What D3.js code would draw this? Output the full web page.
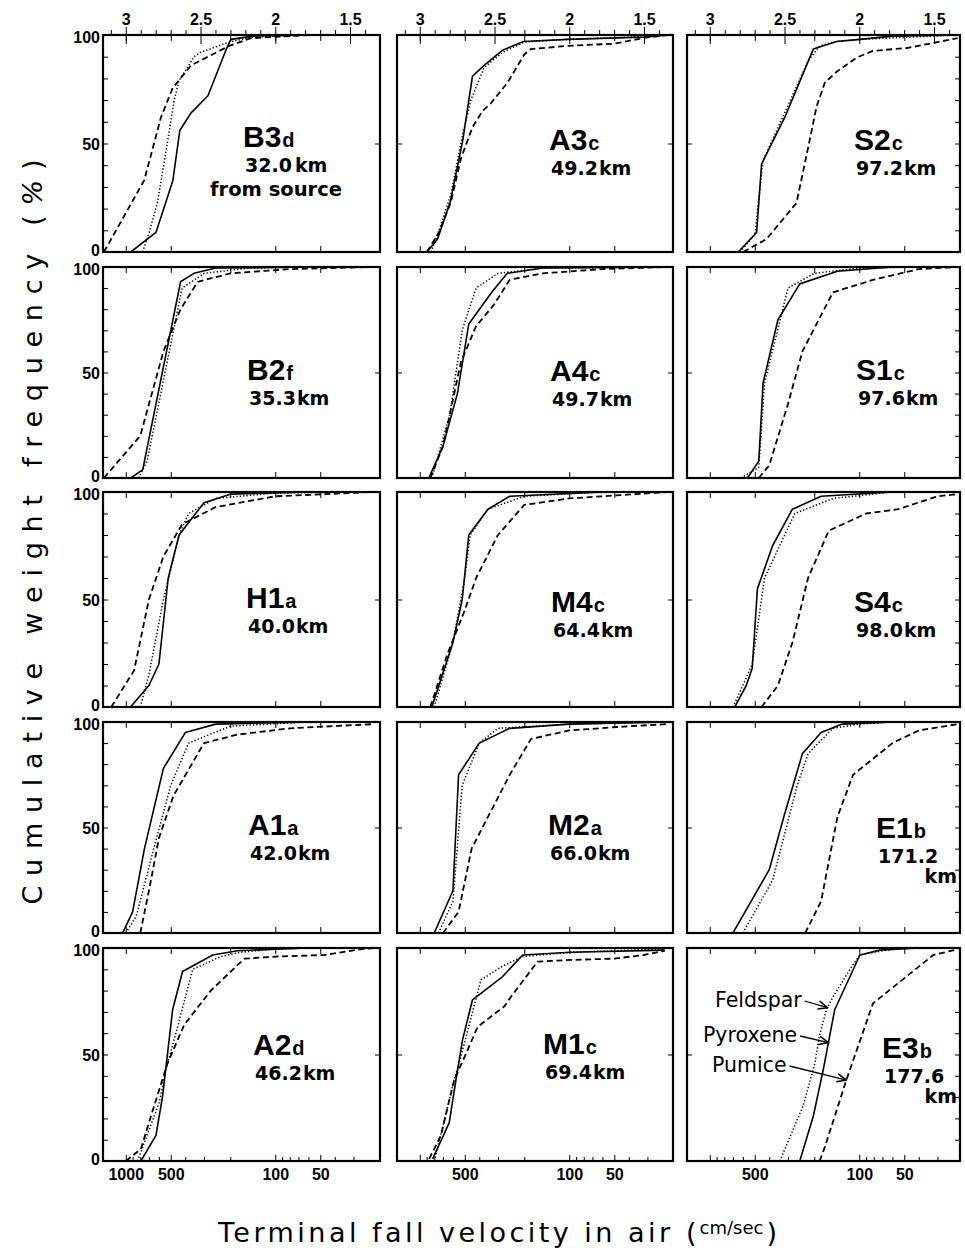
<!DOCTYPE html>
<html>
<head>
<meta charset="utf-8">
<script src="https://cdn.jsdelivr.net/npm/d3@7"></script>
<style>
  body { margin: 0; background: #fff; }
  svg { display: block; }
  .tick text { font-family: "Liberation Sans", Arial, sans-serif; font-weight: bold; fill: #000; }
</style>
</head>
<body>
<svg id="chart" width="965" height="1256"></svg>
<script>
// ---- Samples (row-major: 5 rows x 3 columns) ----
const sampleCodes    = ["B3", "A3", "S2", "B2", "A4", "S1", "H1", "M4", "S4", "A1", "M2", "E1", "A2", "M1", "E3"];
const sampleSuffixes = ["d",  "c",  "c",  "f",  "c",  "c",  "a",  "c",  "c",  "a",  "a",  "b",  "d",  "c",  "b"];
const distancesKm    = ["32.0", "49.2", "97.2", "35.3", "49.7", "97.6", "40.0", "64.4", "98.0", "42.0", "66.0", "171.2", "46.2", "69.4", "177.6"];

// ---- Cumulative weight frequency (%) against terminal fall velocity (cm/sec) ----
const pyroxene = [
  [[925,0],[628,9],[484,33],[435,56],[367,64],[282,72],[214,93],[198,98],[140,99.5],[60,100]],
  [[896,0],[760,6],[626,23],[517,51],[444,81],[371,86],[279,93],[202,97],[103,98],[32,99],[22,100]],
  [[645,0],[486,9],[450,40.6],[315,62],[203,93.5],[142,97],[99,98],[60,99.5],[22,100]],
  [[925,0],[770,4],[430,93],[350,97],[250,99.5],[60,100]],
  [[870,0],[700,15],[560,40],[470,73],[330,88],[260,97],[150,99.5],[22,100]],
  [[560,0],[470,8],[440,45],[350,75],[250,92],[140,98],[60,100]],
  [[930,0],[700,10],[600,20],[520,60],[440,80],[300,95],[200,99],[60,100]],
  [[830,0],[600,30],[520,50],[470,80],[350,92],[250,98],[60,100]],
  [[680,0],[570,10],[520,18],[480,55],[380,75],[280,92],[180,98],[60,100]],
  [[1050,0],[900,10],[750,40],[560,78],[400,95],[250,99],[60,100]],
  [[800,0],[600,20],[550,75],[400,90],[250,97],[100,99],[22,100]],
  [[700,0],[400,30],[320,55],[240,85],[180,95],[130,99],[60,100]],
  [[792,0],[628,12],[567,30.5],[486,71],[417,89],[262,96.7],[179,98.7],[102,99.4],[60,100]],
  [[820,1],[635,18],[573,38],[517,57],[444,75.7],[279,86.6],[205,96.7],[98,98],[23,99]],
  [[250,0],[203,21],[174,43],[146,71],[99,96.7],[73,99],[40,100]]
];
const feldspar = [
  [[771,0],[697,9],[613,23],[525,51],[474,70],[440,79],[349,90],[316,92],[208,96.5],[146,99],[60,100]],
  [[841,0],[760,8],[619,26.6],[517,54],[455,70],[371,85],[279,92],[200,96.7],[103,98],[40,99],[22,100]],
  [[628,0],[499,8],[441,42],[220,88],[184,95],[142,97],[99,98],[22,100]],
  [[820,0],[720,8],[420,90],[300,97],[150,99.5],[60,100]],
  [[830,0],[630,30],[520,70],[420,90],[300,97],[150,99.5],[22,100]],
  [[620,0],[470,5],[430,45],[300,90],[200,97],[100,99.5],[40,100]],
  [[800,0],[700,15],[560,50],[440,80],[380,90],[250,97],[100,99.5],[30,100]],
  [[800,0],[600,30],[500,60],[460,80],[350,92],[200,98],[60,100]],
  [[700,0],[600,10],[520,20],[430,60],[270,90],[150,97],[60,100]],
  [[1000,0],[850,8],[650,40],[500,70],[380,90],[200,98],[60,100]],
  [[750,0],[600,15],[520,70],[400,90],[300,97],[100,99],[22,100]],
  [[600,0],[380,25],[260,70],[220,85],[150,97],[100,99],[60,100]],
  [[834,0],[597,27.5],[539,43],[450,63],[357,90],[231,96],[170,98],[100,99.5],[60,100]],
  [[800,0],[589,38],[531,49],[390,85],[287,91],[205,96],[98,98],[23,99.5]],
  [[340,0],[237,26],[198,46],[185,58.6],[166,71],[150,77],[113,91],[99,96.7],[60,99.5]]
];
const pumice = [
  [[1400,0],[753,33],[582,62],[486,75.5],[366,86],[203,95],[146,98.5],[60,100]],
  [[896,0],[745,9],[619,23],[531,43],[444,57.5],[380,65],[334,68.6],[259,78],[200,91],[181,93.5],[103,95],[50,96],[32,98.6],[22,100]],
  [[597,0],[417,6],[263,22.6],[220,48],[193,67],[170,78],[142,83],[104,89.6],[81,92.7],[48,94],[30.5,96.6],[22,98.6]],
  [[1400,0],[800,20],[560,60],[430,80],[330,93],[200,97],[80,99],[22,100]],
  [[850,0],[700,15],[530,55],[420,72],[320,82],[250,94],[150,97],[60,99],[22,100]],
  [[470,0],[400,6],[300,35],[240,60],[150,88],[80,94],[40,99],[22,100]],
  [[1250,0],[880,17],[700,50],[560,70],[420,85],[250,93],[100,98],[22,100]],
  [[850,0],[650,25],[500,45],[420,60],[300,80],[200,94],[100,97],[22,100]],
  [[450,0],[350,10],[280,30],[220,60],[160,82],[90,90],[55,92],[30,98],[22,99]],
  [[800,0],[700,20],[600,45],[480,65],[300,90],[180,94],[80,97],[22,99]],
  [[700,0],[550,10],[450,40],[350,55],[250,75],[180,92],[100,96],[40,98],[22,99]],
  [[230,0],[180,15],[140,55],[110,75],[60,90],[40,96],[22,99]],
  [[998,0],[792,5.6],[679,21],[525,46],[406,64],[270,80],[161,95],[97,96],[47,96.7],[27,99.4],[22,100]],
  [[865,1],[722,12],[589,38],[479,52],[410,63],[272,72.6],[246,77],[163,93.6],[98,94.4],[50,95],[32,96.7],[23,98.7]],
  [[184,0],[170,6.5],[122,38],[81,74],[32,96.7],[22,99.4]]
];

// ---- Axis ticks ----
const velocityLabelTicks = [[1000, 500, 100, 50], [500, 100, 50], [500, 100, 50]];
const velocityMinorTicks = [900, 800, 700, 600, 400, 300, 200, 90, 80, 70, 60, 40, 30];
const phiLabelTicks = [3, 2.5, 2, 1.5];
const phiLabelText = ["3", "2.5", "2", "1.5"];
const percentLabelTicks = [0, 50, 100];
const percentMinorTicks = [10, 20, 30, 40, 60, 70, 80, 90];

// Legend (E3b panel): name and the % level where its arrow meets the line
const legendNames = ["Feldspar", "Pyroxene", "Pumice"];
const legendTargets = [72, 55.6, 38];

// ---- Layout ----
const colLeft  = [103, 397, 687];
const colRight = [380, 673, 960];
const rowTop    = [35, 267, 492, 722, 948];
const rowBottom = [252, 478, 707, 933, 1161];
const pxPerDecade = 149.5;
const vLeft = 1420;
// panel label anchors (name baseline, relative to the panel's top-left corner)
const labelAt = [[140,112],[152,115],[167,115],[144,113],[153,114],[169,113],[143,116],[154,120],[167,120],[145,113],[151,113],[189,116],[150,107],[146,106],[195,110]];

const svg = d3.select("#chart");
const line = (x, y) => d3.line().x(d => x(d[0])).y(d => y(d[1]));
const seriesStyle = [
  { data: pyroxene, width: 1.6, dash: null },
  { data: feldspar, width: 1.5, dash: "1.3,2.1" },
  { data: pumice,   width: 1.8, dash: "6,3.6" }
];

svg.append("defs").append("marker")
  .attr("id", "arrow").attr("viewBox", "0 0 10 10")
  .attr("refX", 9).attr("refY", 5)
  .attr("markerWidth", 9).attr("markerHeight", 9)
  .attr("orient", "auto")
  .append("path").attr("d", "M1,1.5 L9,5 L1,8.5")
  .attr("fill", "none").attr("stroke", "#000").attr("stroke-width", 1.3);

const clean = g => g.select(".domain").remove();
const labelFont = '"Liberation Sans", Arial, sans-serif';
const distFont = '"DejaVu Sans", sans-serif';

sampleCodes.forEach((code, i) => {
  const r = Math.floor(i / 3), c = i % 3;
  const W = colRight[c] - colLeft[c];
  const H = rowBottom[r] - rowTop[r];
  const x = d3.scaleLog().domain([vLeft, vLeft / Math.pow(10, W / pxPerDecade)]).range([0, W]);
  const y = d3.scaleLinear().domain([0, 100]).range([H, 0]);
  const g = svg.append("g").attr("transform", `translate(${colLeft[c]},${rowTop[r]})`);

  // curves
  const clip = `clip${i}`;
  g.append("clipPath").attr("id", clip).append("rect").attr("width", W).attr("height", H);
  const lines = g.append("g").attr("clip-path", `url(#${clip})`);
  seriesStyle.forEach(s => {
    lines.append("path")
      .attr("d", line(x, y)(s.data[i]))
      .attr("fill", "none").attr("stroke", "#000")
      .attr("stroke-width", s.width)
      .attr("stroke-dasharray", s.dash)
      .attr("stroke-linejoin", "round");
  });

  // inward ticks on top and bottom borders
  g.append("g").attr("transform", `translate(0,${H})`)
    .call(d3.axisTop(x).tickValues([1000, 500, 100, 50]).tickSize(6).tickFormat(""))
    .call(clean);
  g.append("g")
    .call(d3.axisBottom(x).tickValues([1000, 500, 200, 100, 50]).tickSize(6).tickFormat(""))
    .call(clean);

  // percent ticks: full set on the outer sides, only 50 on inner sides
  const leftTicks = c === 0 ? percentMinorTicks.concat([50]) : [50];
  const rightTicks = c === 2 ? percentMinorTicks.concat([50]) : [50];
  g.append("g").call(d3.axisRight(y).tickValues(leftTicks).tickSize(5).tickFormat("")).call(clean);
  g.append("g").attr("transform", `translate(${W},0)`)
    .call(d3.axisLeft(y).tickValues(rightTicks).tickSize(5).tickFormat("")).call(clean);

  if (c === 0) {
    g.append("g")
      .call(d3.axisLeft(y).tickValues(percentLabelTicks).tickSize(0).tickPadding(3))
      .call(clean)
      .selectAll("text").attr("font-size", 16)
      .attr("dy", d => d === 0 ? "0.2em" : d === 100 ? "0.45em" : "0.36em");
  }

  if (r === 0) {
    // phi scale along the top
    const phi = d3.scaleLinear().domain(x.domain().map(Math.log10)).range([0, W]);
    const minors = d3.range(14, 32).map(v => v / 10).filter(v => phiLabelTicks.indexOf(v) < 0);
    g.append("g").call(d3.axisTop(phi).tickValues(minors).tickSize(5).tickFormat("")).call(clean);
    g.append("g").call(d3.axisTop(phi).tickValues(phiLabelTicks).tickSize(8).tickPadding(2)
        .tickFormat((d, k) => phiLabelText[k]))
      .call(clean)
      .call(a => a.selectAll("line").attr("y2", -8).attr("y1", 9))
      .selectAll("text").attr("font-size", 16);
  }

  if (r === 4) {
    g.append("g").attr("transform", `translate(0,${H})`)
      .call(d3.axisTop(x).tickValues(velocityMinorTicks).tickSize(4).tickFormat(""))
      .call(clean);
    g.append("g").attr("transform", `translate(0,${H})`)
      .call(d3.axisBottom(x).tickValues(velocityLabelTicks[c]).tickSize(0).tickPadding(7)
        .tickFormat(d3.format("d")))
      .call(clean)
      .selectAll("text").attr("font-size", 16).attr("dy", "0.72em");
  }

  // frame
  g.append("rect").attr("width", W).attr("height", H)
    .attr("fill", "none").attr("stroke", "#000").attr("stroke-width", 2.2);

  // sample label
  const [lx, ly] = labelAt[i];
  const name = g.append("text").attr("x", lx).attr("y", ly)
    .attr("font-family", labelFont).attr("font-weight", "bold").attr("font-size", 30);
  name.append("tspan").text(code);
  name.append("tspan").attr("font-size", 20).attr("dx", 1).text(sampleSuffixes[i]);

  const twoLine = distancesKm[i].length > 4;
  const dist = g.append("text").attr("x", lx + 2).attr("y", ly + 25)
    .attr("font-family", distFont).attr("font-weight", "bold").attr("font-size", 19);
  dist.append("tspan").text(distancesKm[i]);
  if (twoLine) {
    g.append("text").attr("x", W - 3).attr("y", ly + 45).attr("text-anchor", "end")
      .attr("font-family", distFont).attr("font-weight", "bold").attr("font-size", 19)
      .text("km");
  } else {
    dist.append("tspan").attr("dx", i === 0 ? 3 : 1).text("km");
  }
  if (i === 0) {
    g.append("text").attr("x", lx + 33).attr("y", ly + 49).attr("text-anchor", "middle")
      .attr("font-family", distFont).attr("font-weight", "bold").attr("font-size", 19.5)
      .text("from source");
  }

  // legend arrows in the last panel
  if (i === sampleCodes.length - 1) {
    const order = [feldspar, pyroxene, pumice];
    const textAt = [[28, 59], [16, 94], [25, 124]];
    legendNames.forEach((nm, k) => {
      const pts = order[k][i];
      const p = legendTargets[k];
      let tx = null;
      for (let j = 1; j < pts.length; j++) {
        const a = pts[j - 1], b = pts[j];
        if ((a[1] - p) * (b[1] - p) <= 0 && a[1] !== b[1]) {
          const t = (p - a[1]) / (b[1] - a[1]);
          tx = Math.pow(10, Math.log10(a[0]) + t * (Math.log10(b[0]) - Math.log10(a[0])));
          break;
        }
      }
      const t = g.append("text").attr("x", textAt[k][0]).attr("y", textAt[k][1])
        .attr("font-family", '"DejaVu Sans", sans-serif').attr("font-size", 20.5)
        .text(nm);
      const end = t.node().getComputedTextLength() + textAt[k][0];
      g.append("line")
        .attr("x1", end + 3).attr("y1", textAt[k][1] - 6)
        .attr("x2", x(tx)).attr("y2", y(p))
        .attr("stroke", "#000").attr("stroke-width", 1.3)
        .attr("marker-end", "url(#arrow)");
    });
  }
});

// axis titles
const titleFont = '"DejaVu Sans", sans-serif';
const yTitle = svg.append("text")
  .attr("transform", "translate(42,532) rotate(-90)")
  .attr("text-anchor", "middle")
  .attr("font-family", titleFont).attr("font-size", 27)
  .attr("textLength", 745).attr("lengthAdjust", "spacing");
yTitle.append("tspan").text("Cumulative weight frequency (");
yTitle.append("tspan").attr("font-style", "italic").text("%");
yTitle.append("tspan").text(")");

svg.append("text")
  .attr("x", 218).attr("y", 1242)
  .attr("font-family", titleFont).attr("font-size", 27)
  .attr("textLength", 452).attr("lengthAdjust", "spacing")
  .text("Terminal fall velocity in air");
const unit = svg.append("text").attr("x", 686).attr("y", 1242)
  .attr("font-family", titleFont).attr("font-size", 27);
unit.append("tspan").text("(");
unit.append("tspan").attr("font-size", 18).attr("dy", -8).attr("dx", 3).text("cm/sec");
unit.append("tspan").attr("dy", 8).attr("dx", 3).text(")");
</script>
</body>
</html>
